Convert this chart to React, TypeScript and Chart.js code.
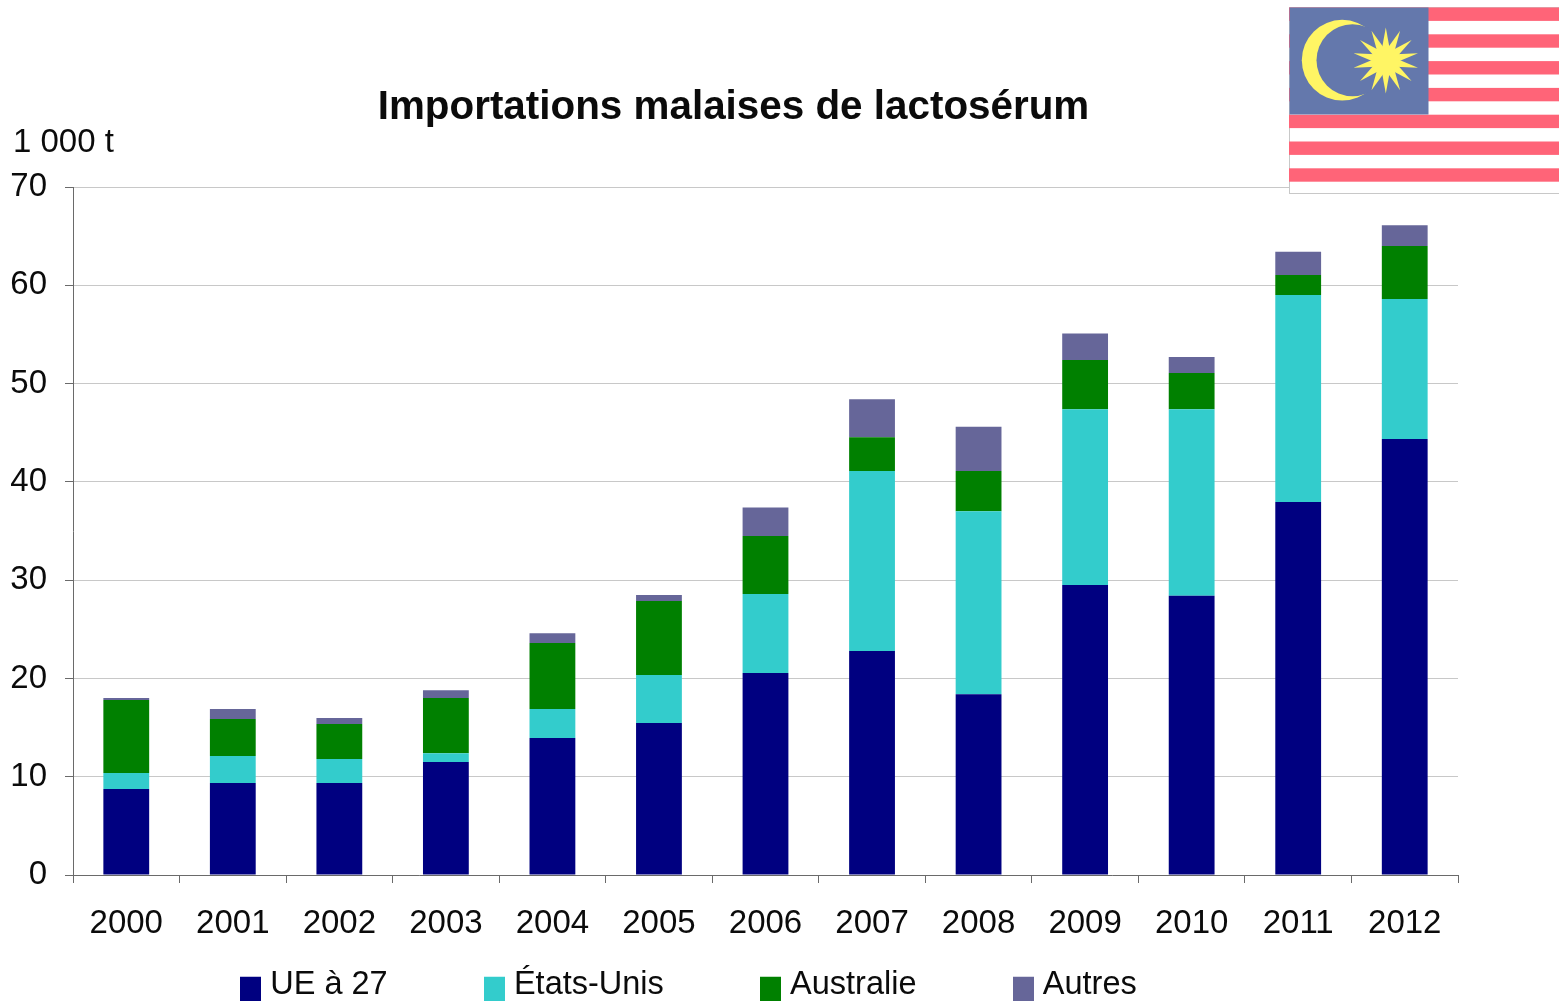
import React, { useEffect, useRef } from "react";
import { Chart, registerables } from "chart.js";

Chart.register(...registerables);

const years = ["2000", "2001", "2002", "2003", "2004", "2005", "2006", "2007", "2008", "2009", "2010", "2011", "2012"];
const ue27 = [8.75, 9.36, 9.36, 11.5, 13.94, 15.46, 20.55, 22.8, 18.4, 29.5, 28.4, 37.95, 44.35];
const etatsUnis = [1.63, 2.74, 2.44, 0.9, 2.96, 4.89, 8.05, 18.3, 18.6, 17.9, 19.0, 21.05, 14.25];
const australie = [7.42, 3.77, 3.56, 5.6, 6.7, 7.52, 5.9, 3.45, 4.1, 5.0, 3.67, 2.04, 5.4];
const autres = [0.2, 1.03, 0.61, 0.8, 1.0, 0.63, 2.9, 3.85, 4.5, 2.7, 1.63, 2.36, 2.1];
const yTicks = [0, 10, 20, 30, 40, 50, 60, 70];
const titleText = "Importations malaises de lactosérum";
const unitText = "1 000 t";

const FONT = "'Liberation Sans', Arial, sans-serif";
const INK = "#0b0b0b";
const AXIS = "#6a6a6a";

function legendSwatch(color: string): HTMLCanvasElement {
  const c = document.createElement("canvas");
  c.width = 21;
  c.height = 33;
  const g = c.getContext("2d")!;
  g.fillStyle = color;
  g.fillRect(0, 8, 21, 25);
  return c;
}

const placement = {
  id: "placement",
  afterLayout(chart: any) {
    if (chart.titleBlock) {
      chart.titleBlock.left = 0;
      chart.titleBlock.right = 1467;
    }
    const lg = chart.legend;
    if (lg) {
      lg.left = 144;
      lg.right = 1559;
      lg.top = 969 - 103;
      lg.bottom = 1001;
    }
  },
  afterDraw(chart: any) {
    const g = chart.ctx;
    g.save();
    g.font = `33px ${FONT}`;
    g.fillStyle = INK;
    g.textAlign = "left";
    g.textBaseline = "middle";
    g.fillText(unitText, 13, 143);
    g.restore();
  },
};

export default function App() {
  const ref = useRef<HTMLCanvasElement>(null);
  useEffect(() => {
    const colors = ["#000080", "#33CCCC", "#008000", "#666699"];
    const swatches = colors.map(legendSwatch);
    const chart = new Chart(ref.current!, {
      type: "bar",
      data: {
        labels: years,
        datasets: [
          { label: "UE à 27", data: ue27, backgroundColor: colors[0] },
          { label: "États-Unis", data: etatsUnis, backgroundColor: colors[1] },
          { label: "Australie", data: australie, backgroundColor: colors[2] },
          { label: "Autres", data: autres, backgroundColor: colors[3] },
        ],
      },
      options: {
        responsive: false,
        animation: false,
        devicePixelRatio: 1,
        layout: { padding: { left: 0, right: 101, top: 0, bottom: 0 } },
        datasets: { bar: { barPercentage: 0.43, categoryPercentage: 1 } },
        plugins: {
          tooltip: { enabled: false },
          title: {
            display: true,
            text: titleText,
            color: INK,
            font: { family: FONT, size: 40.4, weight: "bold", lineHeight: 1 },
            padding: { top: 87.8, bottom: 58.8 },
          },
          legend: {
            display: true,
            position: "bottom",
            align: "start",
            maxHeight: 40,
            labels: {
              color: INK,
              font: { family: FONT, size: 32.5 },
              usePointStyle: true,
              boxWidth: 7,
              boxHeight: 21,
              padding: 103,
              generateLabels: (c: any) =>
                Chart.defaults.plugins.legend.labels.generateLabels(c).map((it: any, i: number) => ({
                  ...it,
                  pointStyle: swatches[i],
                })),
            },
          },
        },
        scales: {
          x: {
            stacked: true,
            afterFit: (s: any) => { s.height = 86; },
            border: { color: AXIS, width: 1, z: 1 },
            grid: { display: true, drawOnChartArea: false, drawTicks: true, tickLength: 8, color: AXIS, offset: true },
            ticks: { color: INK, font: { family: FONT, size: 33 }, padding: 21, maxRotation: 0, autoSkip: false },
          },
          y: {
            stacked: true,
            min: 0,
            max: 70,
            afterFit: (s: any) => { s.width = 73; },
            afterBuildTicks: (s: any) => { s.ticks = yTicks.map((value) => ({ value })); },
            border: { color: AXIS, width: 1 },
            grid: { color: "#C8C8C8", tickColor: AXIS, tickLength: 8, lineWidth: 1 },
            ticks: { color: INK, font: { family: FONT, size: 33 }, padding: 18 },
          },
        },
      },
      plugins: [placement],
    } as any);
    return () => chart.destroy();
  }, []);

  const rays = Array.from({ length: 14 }, (_, i) => i);
  const stripes = Array.from({ length: 7 }, (_, i) => i);
  return (
    <div style={{ position: "fixed", left: 0, top: 0, width: 1559, height: 1001, background: "#fff", overflow: "hidden" }}>
      <canvas ref={ref} width={1559} height={1001} style={{ display: "block" }} />
      <svg width={271} height={187} viewBox="0 0 271 187" style={{ position: "absolute", left: 1288.5, top: 6.5 }}>
        <rect x={0.5} y={0.5} width={270} height={186} fill="#fff" stroke="#C8C8C8" />
        {stripes.map((i) => (
          <rect key={i} x={0} y={i * 26.8 + 0.5} width={271} height={13.4} fill="#FF6478" />
        ))}
        <rect x={0.5} y={0.5} width={139} height={107} fill="#6478AC" />
        <circle cx={53.2} cy={53.2} r={40.4} fill="#FFF564" />
        <circle cx={63.5} cy={53.2} r={36} fill="#6478AC" />
        {rays.map((i) => {
          const a = (i * Math.PI * 2) / 14;
          const b = a + Math.PI / 2;
          const cx = 96.8, cy = 53.5, r = 33, w = 6;
          const tip = `${cx + r * Math.sin(a)},${cy - r * Math.cos(a)}`;
          const l = `${cx + w * Math.sin(b)},${cy - w * Math.cos(b)}`;
          const k = `${cx - w * Math.sin(b)},${cy + w * Math.cos(b)}`;
          return <polygon key={i} points={`${l} ${tip} ${k}`} fill="#FFF564" />;
        })}
        <circle cx={96.8} cy={53.5} r={13} fill="#FFF564" />
      </svg>
    </div>
  );
}
